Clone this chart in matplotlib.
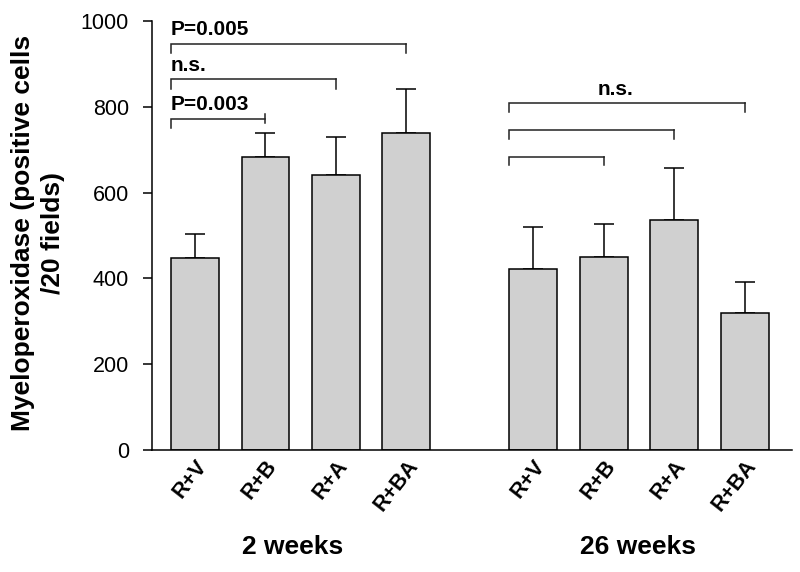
import numpy as np
import matplotlib
matplotlib.use('Agg')
import matplotlib.pyplot as plt
import matplotlib.transforms as mtransforms

plt.rcParams['font.family'] = ['Liberation Sans', 'DejaVu Sans']

# data
groups = ['2 weeks', '26 weeks']
treatments = ['R+V', 'R+B', 'R+A', 'R+BA']
mpo_2wk = [448, 684, 642, 738]
sem_2wk = [56, 56, 87, 103]
mpo_26wk = [423, 450, 537, 319]
sem_26wk = [96, 77, 120, 73]

# brackets: (bar from, bar to, line level, label)
brackets_2wk = [(0, 1, 772, 'P=0.003'), (0, 2, 864, 'n.s.'), (0, 3, 947, 'P=0.005')]
brackets_26wk = [(0, 1, 684, ''), (0, 2, 746, ''), (0, 3, 808, 'n.s.')]

x1 = np.arange(4)
x2 = np.arange(4) + 4.8
bw = 0.68

fig = plt.figure(figsize=(8, 5.72), dpi=100)
ax = fig.add_axes([0.19, 1 - 450 / 572, 0.80, (450 - 21) / 572])

lw = 1.1
for xs, vals, errs in [(x1, mpo_2wk, sem_2wk), (x2, mpo_26wk, sem_26wk)]:
    ax.bar(xs, vals, width=bw, color='#d0d0d0', edgecolor='black', linewidth=lw, zorder=2)
    ax.errorbar(xs, vals, yerr=[np.zeros(4), errs], fmt='none', ecolor='black',
                elinewidth=lw, capsize=7.5, capthick=lw, zorder=1)

# significance brackets
def bracket(xs, i, j, level, text, drop, small_tick=False, center_text=False):
    left = xs[i] - bw / 2
    right = xs[j]
    ax.plot([left, left, right], [level - drop, level, level], color='#222222', lw=lw,
            solid_joinstyle='miter', clip_on=False)
    if small_tick:
        ax.plot([right, right], [level + 11, level - 10], color='#222222', lw=lw, clip_on=False)
    else:
        ax.plot([right, right], [level, level - drop], color='#222222', lw=lw, clip_on=False)
    if text:
        if center_text:
            ax.text(5.96, level + 10, text, ha='center', va='bottom', fontsize=15,
                    fontweight='bold')
        else:
            ax.text(left, level + 11, text, ha='left', va='bottom', fontsize=15,
                    fontweight='bold')

for k, (i, j, lev, txt) in enumerate(brackets_2wk):
    bracket(x1, i, j, lev, txt, 22, small_tick=(k == 0))
for (i, j, lev, txt) in brackets_26wk:
    bracket(x2, i, j, lev, txt, 20, center_text=True)

ax.set_xlim(-0.61, 8.47)
ax.set_ylim(0, 1000)
ax.set_yticks([0, 200, 400, 600, 800, 1000])
ax.tick_params(axis='y', direction='out', length=6.5, width=lw, labelsize=15.5, pad=10)

ax.set_xticks(np.concatenate([x1, x2]))
ax.set_xticklabels(treatments * 2, rotation=52, ha='right', va='center',
                   rotation_mode='anchor', fontsize=15.5, fontweight='bold')
ax.tick_params(axis='x', length=0, pad=9)
offset = mtransforms.ScaledTranslation(8 / 100, 0, fig.dpi_scale_trans)
for lab in ax.get_xticklabels():
    lab.set_transform(lab.get_transform() + offset)

for s in ['top', 'right']:
    ax.spines[s].set_visible(False)
for s in ['left', 'bottom']:
    ax.spines[s].set_linewidth(lw)

fig.text(38 / 800, 1 - 233 / 572, 'Myeloperoxidase (positive cells\n/20 fields)',
         rotation=90, ha='center', va='center', multialignment='center',
         fontsize=19, fontweight='bold', linespacing=1.27)

for gx, g in zip([1.39, 6.28], groups):
    ax.text(gx, -0.226, g, transform=ax.get_xaxis_transform(), ha='center', va='center',
            fontsize=19, fontweight='bold')

fig.savefig('out.png', dpi=100)
